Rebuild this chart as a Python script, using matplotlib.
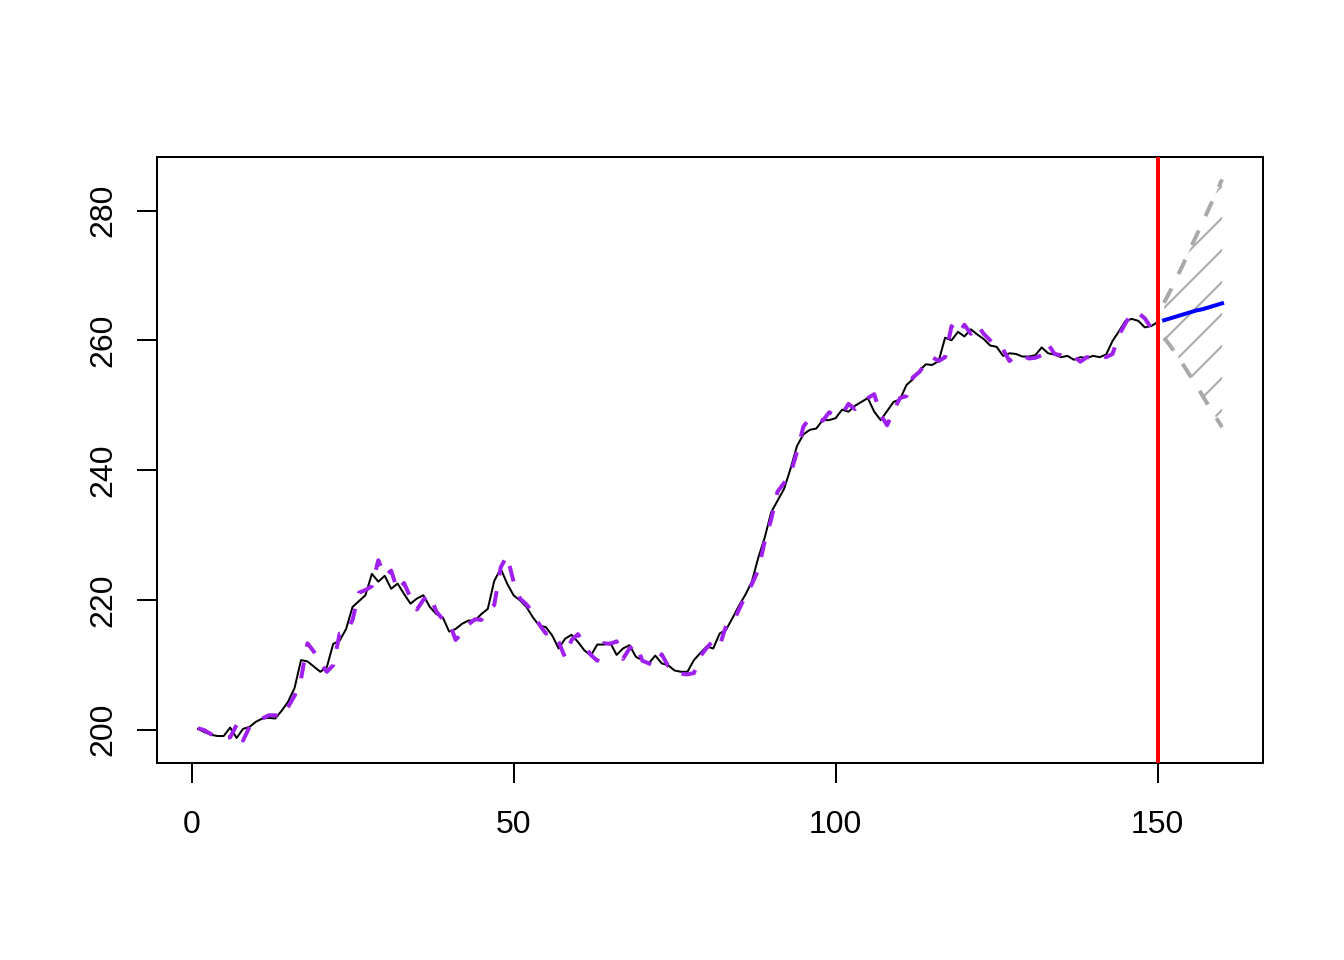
import numpy as np
import matplotlib
matplotlib.use("Agg")
import matplotlib.pyplot as plt

plt.rcParams['font.family'] = ['Liberation Sans', 'DejaVu Sans']
plt.rcParams['hatch.linewidth'] = 0.75
plt.rcParams['hatch.color'] = '#A9A9A9'

# observed series (t = 1..150)
observed = [
    200.1, 199.6, 199.2, 199.0, 199.0, 200.3, 198.7, 200.1, 200.4, 201.2,
    201.7, 201.8, 201.7, 202.9, 204.3, 206.4, 210.7, 210.5, 209.7, 208.9,
    209.6, 213.2, 213.7, 215.5, 218.9, 219.8, 220.7, 224.0, 222.8, 223.7,
    221.7, 222.5, 220.9, 219.4, 220.2, 220.7, 218.9, 217.8, 217.3, 215.1,
    215.5, 216.3, 216.8, 216.8, 217.8, 218.6, 222.9, 224.8, 222.5, 220.7,
    219.9, 218.9, 217.3, 216.0, 215.8, 214.5, 212.5, 214.0, 214.6, 213.5,
    212.2, 211.4, 213.1, 213.1, 213.4, 211.5, 212.5, 213.0, 211.2, 210.7,
    210.2, 211.4, 210.2, 209.9, 209.1, 208.9, 208.9, 210.7, 211.8, 212.8,
    212.5, 214.8, 215.4, 217.2, 219.1, 220.8, 222.8, 226.5, 229.6, 233.5,
    235.3, 237.1, 240.2, 243.7, 245.5, 246.2, 246.4, 247.7, 247.7, 248.0,
    249.3, 249.0, 249.9, 250.5, 251.1, 249.0, 247.7, 249.1, 250.5, 250.9,
    253.1, 254.0, 255.3, 256.3, 256.2, 256.8, 260.4, 260.0, 261.3, 260.6,
    261.7, 260.9, 260.2, 259.2, 259.0, 257.6, 258.0, 257.9, 257.5, 257.5,
    257.7, 258.9, 258.0, 257.8, 257.4, 257.6, 257.0, 257.4, 257.3, 257.6,
    257.4, 257.8, 259.9, 261.4, 263.0, 263.3, 263.0, 262.0, 262.2, 262.8,
]

# fitted values (purple dashed)
fitted = [
    200.2, 199.9, 199.3, 198.9, 198.7, 198.8, 200.7, 198.3, 200.4, 200.7,
    201.7, 202.2, 202.2, 201.9, 203.5, 205.2, 207.8, 213.3, 212.0, 210.3,
    208.9, 209.9, 214.8, 214.9, 216.9, 221.1, 221.5, 222.1, 226.1, 223.6,
    224.5, 221.4, 222.6, 220.3, 218.5, 220.0, 220.8, 218.2, 217.0, 216.6,
    213.8, 214.9, 216.2, 217.0, 216.9, 218.3, 219.2, 225.0, 226.8, 222.8,
    220.2, 219.3, 218.1, 216.2, 214.8, 215.0, 213.5, 211.1, 213.8, 214.7,
    213.1, 211.5, 210.6, 213.3, 213.2, 213.6, 210.9, 212.5, 213.2, 210.6,
    210.2, 209.7, 211.6, 209.8, 209.6, 208.6, 208.5, 208.7, 211.3, 212.6,
    213.7, 212.9, 216.0, 216.3, 218.5, 220.6, 222.4, 224.6, 229.0, 232.4,
    236.7, 238.0, 239.4, 242.8, 246.7, 248.0, 248.0, 247.6, 248.9, 248.4,
    248.6, 250.2, 249.4, 250.5, 251.1, 251.7, 248.5, 246.9, 249.2, 251.1,
    251.4, 254.3, 255.1, 256.5, 257.4, 256.8, 257.4, 262.2, 260.9, 262.4,
    261.0, 262.4, 261.0, 260.0, 258.7, 258.6, 256.8, 257.7, 257.7, 257.2,
    257.3, 257.7, 259.4, 257.9, 257.7, 257.2, 257.5, 256.7, 257.4, 257.3,
    257.7, 257.4, 257.9, 260.8, 262.6, 264.3, 264.2, 263.4, 261.9, 262.2,
]

# forecast (t = 151..160)
forecast_t = [151, 152, 153, 154, 155, 156, 157, 158, 159, 160]
forecast = [263.1, 263.4, 263.7, 264.0, 264.3, 264.6, 264.8, 265.1, 265.4, 265.7]
upper = [265.8, 267.7, 269.7, 271.8, 274.0, 276.1, 278.2, 280.4, 282.6, 284.8]
lower = [260.4, 259.1, 257.7, 256.2, 254.6, 253.1, 251.4, 249.8, 248.2, 246.6]

split_at = 150
x_ticks = [0, 50, 100, 150]
y_ticks = [200, 220, 240, 260, 280]

t_obs = np.arange(1, len(observed) + 1)

fig = plt.figure(figsize=(7, 5), dpi=192)
ax = fig.add_axes([157/1344, 1 - 763/960, (1263-157)/1344, (763-157)/960])

# data ranges with R-like 4% padding
xmin, xmax = 1, max(forecast_t)
allv = observed + fitted + upper + lower
ymin, ymax = min(allv), max(allv)
ax.set_xlim(xmin - 0.04*(xmax-xmin), xmax + 0.04*(xmax-xmin))
ax.set_ylim(ymin - 0.04*(ymax-ymin), ymax + 0.04*(ymax-ymin))

ax.plot(t_obs, observed, color='black', lw=0.75, zorder=3)
ax.plot(t_obs, fitted, color='#A020F0', lw=1.5, ls=(0, (4, 4)), zorder=4)

ax.fill_between(forecast_t, lower, upper, facecolor='none', edgecolor='#A9A9A9',
                linewidth=0, hatch='//', zorder=1)
ax.plot(forecast_t, upper, color='#A9A9A9', lw=1.5, ls=(0, (4, 4)), zorder=2)
ax.plot(forecast_t, lower, color='#A9A9A9', lw=1.5, ls=(0, (4, 4)), zorder=2)
ax.plot(forecast_t, forecast, color='#0000FF', lw=1.5, zorder=5)
ax.axvline(split_at, color='#FF0000', lw=1.5, zorder=6)

ax.set_xticks(x_ticks)
ax.set_yticks(y_ticks)
ax.set_yticklabels([str(v) for v in y_ticks], rotation=90, va='center')
ax.tick_params(axis='both', length=7.5, width=0.75, labelsize=12, direction='out')
ax.tick_params(axis='x', pad=10)
ax.tick_params(axis='y', pad=7)
for s in ax.spines.values():
    s.set_linewidth(0.75)

fig.savefig('out.png', dpi=192)
